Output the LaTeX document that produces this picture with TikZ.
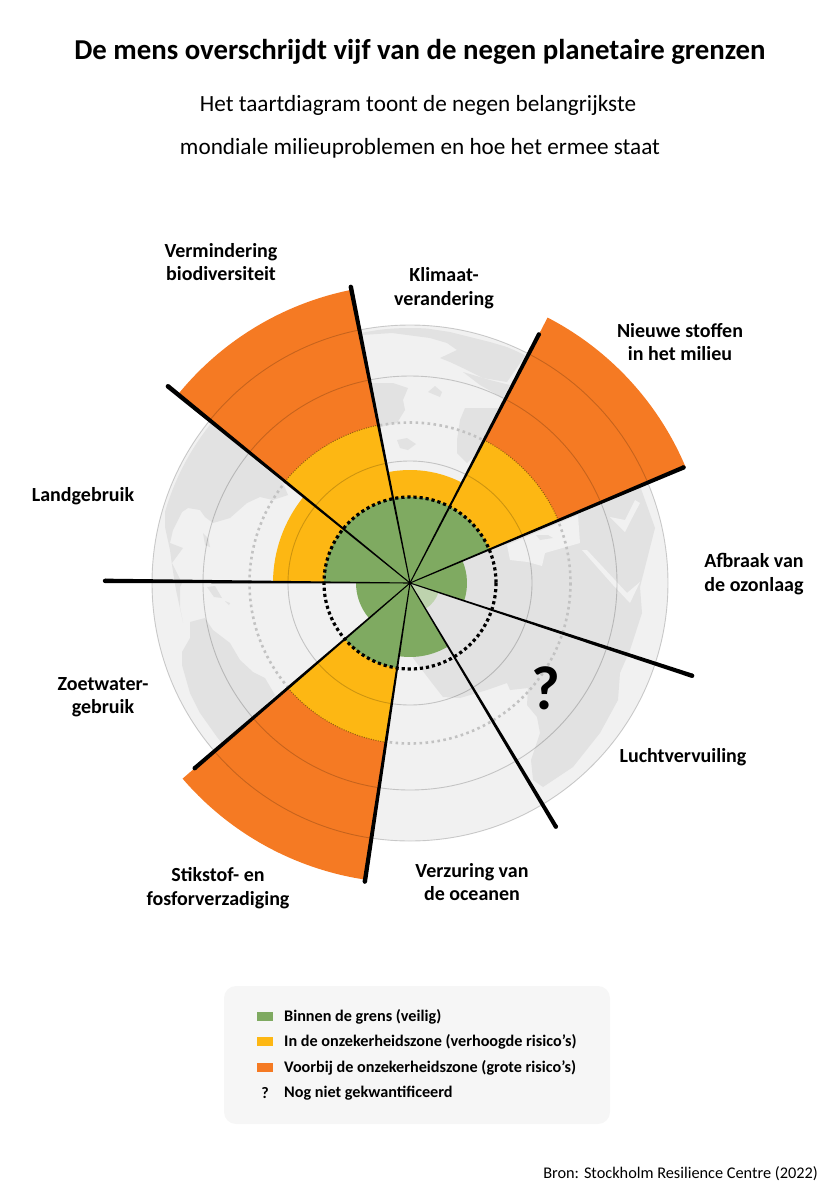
\documentclass[tikz,border=0pt]{standalone}
\usepackage{fontspec}
\setmainfont{Carlito}
\definecolor{safegreen}{HTML}{7FAA61}
\definecolor{palegreen}{HTML}{BED3AE}
\definecolor{zoneyellow}{HTML}{FDB713}
\definecolor{riskorange}{HTML}{F57A23}
\definecolor{globefill}{HTML}{F1F1F1}
\definecolor{landfill}{HTML}{E2E2E2}
\definecolor{legendfill}{HTML}{F6F6F6}
\tikzset{
	land/.style={fill=landfill, draw=none},
	sea/.style={fill=globefill, draw=none},
	ring/.style={draw=black, draw opacity=0.19, line width=0.9},
	titletext/.style={font=\fontsize{28.8}{30}\selectfont\bfseries, inner sep=0},
	subtext/.style={font=\fontsize{23.2}{25}\selectfont, inner sep=0},
	labeltext/.style={font=\fontsize{20}{23.5}\selectfont\bfseries, align=center, inner sep=0},
	legendtext/.style={font=\fontsize{16.2}{18}\selectfont\bfseries, anchor=west, inner sep=0},
	swatch/.style={minimum width=16, minimum height=9, inner sep=0}
}
\newcommand{\sector}[4]{\fill[#4] (0,0) -- (#1:#3) arc[start angle=#1, end angle=#2, radius=#3] -- cycle;}
\begin{document}
\begin{tikzpicture}[x=1pt, y=-1pt]
	\useasboundingbox (0,0) rectangle (840,1200);
	\node[titletext] (title) at (420,52) {De mens overschrijdt vijf van de negen planetaire grenzen};
	\node[subtext] (subone) at (418,105) {Het taartdiagram toont de negen belangrijkste};
	\node[subtext] (subtwo) at (420,148) {mondiale milieuproblemen en hoe het ermee staat};

	% globe
	\fill[globefill] (410,583) circle (258);
	\begin{scope}
		\clip (410,583) circle (255);
		\fill[land] (360,333) -- (390,328) -- (417,327) -- (450,332) -- (490,342) -- (527,353) -- (507,382) -- (483,378) -- (467,370) -- (450,362) -- (440,358) -- (457,350) -- (447,343) -- (430,338) -- (392,333) -- (362,335) -- cycle;
		\fill[land] (463,372) -- (490,380) -- (510,385) -- (503,398) -- (480,385) -- cycle;
		\fill[land] (370,383) -- (393,383) -- (408,388) -- (403,400) -- (405,410) -- (397,423) -- (380,427) -- (375,403) -- cycle;
		\fill[land] (428,392) -- (435,386) -- (442,392) -- (440,397) -- cycle;
		\fill[land] (397,440) -- (407,438) -- (416,444) -- (408,450) -- (400,448) -- cycle;
		\fill[land] (465,408) -- (500,408) -- (483,448) -- (467,463) -- (457,453) -- (457,440) -- (460,420) -- cycle;
		\fill[land] (270,470) -- (210,422) -- (193,433) -- (183,457) -- (170,483) -- (165,510) -- (165,527) -- (170,550) -- (172,565) -- (176,590) -- (183,622) -- (180,607) -- (180,587) -- (182,583) -- (172,563) -- (183,548) -- (170,543) -- (173,530) -- (182,512) -- (188,508) -- (200,510) -- (205,517) -- (213,523) -- (230,518) -- (247,503) -- (260,497) -- (273,500) -- (288,495) -- (283,483) -- cycle;
		\fill[land] (203,533) -- (208,538) -- (210,547) -- (205,545) -- cycle;
		\fill[land] (207,587) -- (215,586) -- (222,598) -- (214,597) -- cycle;
		\fill[land] (225,601) -- (230,603) -- (229,605) -- cycle;
		\fill[land] (190,622) -- (205,618) -- (213,630) -- (230,643) -- (240,660) -- (253,672) -- (265,678) -- (275,695) -- (253,717) -- (222,743) -- (217,737) -- (200,713) -- (190,693) -- (182,665) -- (182,652) -- (190,638) -- cycle;
		\fill[land] (410,583) -- (620,494) -- (640,486) -- (655,528) -- (640,587) -- (642,613) -- (630,650) -- (620,673) -- (618,700) -- (600,733) -- (573,767) -- (543,787) -- (533,780) -- (531,760) -- (540,733) -- (537,717) -- (527,705) -- (528,688) -- (510,690) -- (507,683) -- (487,690) -- (460,698) -- (443,697) -- (432,683) -- (413,658) -- cycle;
		\fill[sea] (507,545) -- (510,560) -- (528,562) -- (542,566) -- (545,553) -- (580,543) -- (578,515) -- cycle;
		\fill[land] (536,535) -- (548,535) -- (553,538) -- (540,540) -- cycle;
		\fill[sea] (582,550) -- (587,550) -- (627,593) -- (640,582) -- (630,603) -- (613,585) -- cycle;
		\fill[sea] (610,517) -- (625,520) -- (635,500) -- (640,503) -- (630,522) -- (625,532) -- cycle;
	\end{scope}
	\draw[black!24, line width=2.6, dash pattern=on 2.6 off 3.4] (410,583) circle (160.5);

	% sectors
	\begin{scope}[shift={(410,583)}]
		\sector{258.7}{297.4}{113}{zoneyellow}
		\sector{297.4}{337.1}{299}{riskorange}
		\sector{297.4}{337.1}{161}{zoneyellow}
		\sector{219.1}{258.7}{299}{riskorange}
		\sector{219.1}{258.7}{161}{zoneyellow}
		\sector{98.6}{139.3}{300}{riskorange}
		\sector{98.6}{139.3}{161}{zoneyellow}
		\sector{180.4}{219.1}{137}{zoneyellow}
		\sector{258.7}{297.4}{86}{safegreen}
		\sector{297.4}{337.1}{86}{safegreen}
		\sector{219.1}{258.7}{86}{safegreen}
		\sector{98.6}{139.3}{86}{safegreen}
		\sector{180.4}{219.1}{86}{safegreen}
		\sector{337.1}{378.2}{57}{safegreen}
		\sector{18.2}{59.1}{30}{palegreen}
		\sector{59.1}{98.6}{74}{safegreen}
		\sector{139.3}{180.4}{54}{safegreen}
		\foreach \r in {122, 207, 258}
			\draw[ring] (0,0) circle (\r);
		\foreach \s/\e in {219.1/258.7, 297.4/337.1, 98.6/139.3}
			\draw[black, draw opacity=0.4, line width=1, dash pattern=on 1 off 1.4] (\s:161) arc[start angle=\s, end angle=\e, radius=161];
		\draw[black, line width=3.2, dash pattern=on 3.2 off 2.9] (0,0) circle (86);
		\foreach \a/\l in {-62.6/280, -22.9/297, 18.2/297, 59.1/284, 98.6/302, 139.3/284, 180.4/305, 219.1/312, 258.7/302}
		{
			\fill[black] (\a+90:0.5) -- (\a+0.42:\l) -- (\a-0.42:\l) -- (\a-90:0.5) -- cycle;
			\fill[black] (\a:\l) circle (2.2);
		}
		\fill[black] (0,0) circle (1.8);
	\end{scope}
	\node[font=\fontsize{62}{62}\selectfont\bfseries, inner sep=0] (unknown) at (546,688) {?};

	\node[labeltext] (biodiv) at (221,262) {Vermindering\\biodiversiteit};
	\node[labeltext] (climate) at (444,288) {Klimaat-\\verandering};
	\node[labeltext] (novel) at (680,342) {Nieuwe stoffen\\in het milieu};
	\node[labeltext] (ozone) at (754,574) {Afbraak van\\de ozonlaag};
	\node[labeltext] (aerosol) at (683,757) {Luchtvervuiling};
	\node[labeltext] (ocean) at (472,882) {Verzuring van\\de oceanen};
	\node[labeltext] (nitrogen) at (218,888) {Stikstof- en\\fosforverzadiging};
	\node[labeltext] (water) at (103,697) {Zoetwater-\\gebruik};
	\node[labeltext] (landuse) at (83,496) {Landgebruik};

	% legend
	\fill[legendfill, rounded corners=12] (224,986) rectangle (610,1124);
	\node[swatch, fill=safegreen] (keygreen) at (265,1016.5) {};
	\node[swatch, fill=zoneyellow] (keyyellow) at (265,1041) {};
	\node[swatch, fill=riskorange] (keyorange) at (265,1067) {};
	\node[inner sep=0, font=\fontsize{16}{18}\selectfont\bfseries] (keyquestion) at (265,1093) {?};
	\node[legendtext] (textgreen) at (284,1017) {Binnen de grens (veilig)};
	\node[legendtext] (textyellow) at (284,1042) {In de onzekerheidszone (verhoogde risico's)};
	\node[legendtext] (textorange) at (284,1068) {Voorbij de onzekerheidszone (grote risico's)};
	\node[legendtext] (textquestion) at (284,1093) {Nog niet gekwantificeerd};
	\node[font=\fontsize{16.3}{18}\selectfont, anchor=east, inner sep=0] (source) at (818,1174) {Bron: Stockholm Resilience Centre (2022)};
\end{tikzpicture}
\end{document}
